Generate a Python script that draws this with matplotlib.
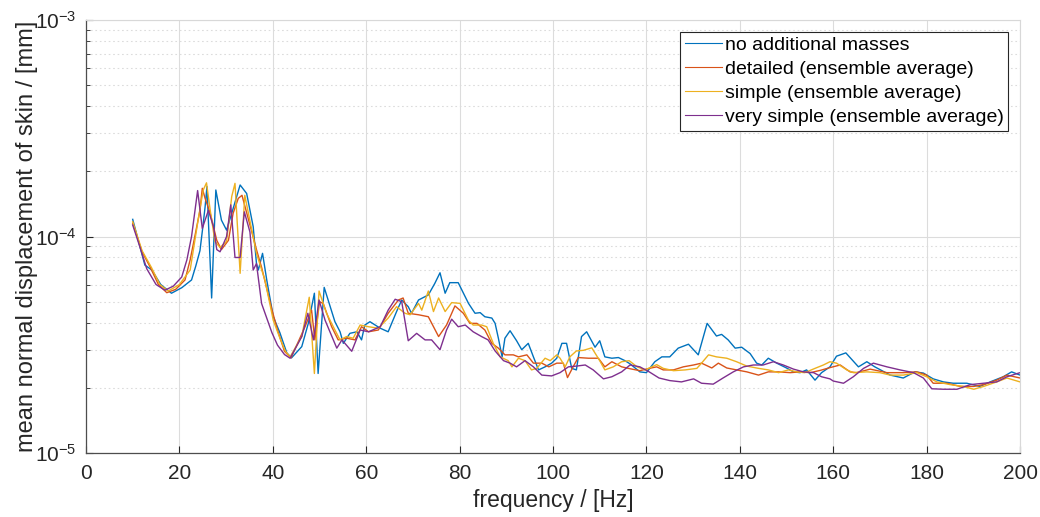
import matplotlib
matplotlib.use("Agg")
import matplotlib.pyplot as plt
import numpy as np
from matplotlib.ticker import LogLocator

plt.rcParams['font.family'] = ['Liberation Sans', 'DejaVu Sans']
plt.rcParams['mathtext.fontset'] = 'custom'
plt.rcParams['mathtext.rm'] = 'Liberation Sans'
plt.rcParams['mathtext.it'] = 'Liberation Sans:italic'
plt.rcParams['mathtext.bf'] = 'Liberation Sans:bold'

labels = ["no additional masses", "detailed (ensemble average)",
          "simple (ensemble average)", "very simple (ensemble average)"]
colors = ["#0072BD", "#D95319", "#EDB120", "#7E2F8E"]

# values in units of 1e-5 mm
f_blue = [10, 12.6, 14.1, 16, 18.3, 20.5, 22.6, 23.5, 24.4, 25.0, 25.5, 25.9, 26.9, 27.8, 29.0, 30.1, 31.2,
          33.0, 34.4, 35.8, 36.5, 36.9, 37.8, 38.7, 40.1, 41.5, 43.0, 44.0, 46.2, 47.6, 48.9, 49.7, 51.0,
          53.3, 54.4, 55.1, 56.5, 58.0, 59.0, 59.7, 60.8, 63.0, 64.7, 66.5, 67.6, 69.0, 69.7, 71.2, 73.3,
          74.7, 75.8, 76.9, 77.9, 79.7, 81.9, 83.3, 84.4, 85.4, 86.9, 87.6, 88.3, 89.1, 89.7, 90.8, 92.2,
          93.3, 94.7, 95.8, 96.9, 98.3, 99.7, 100.8, 101.9, 102.9, 104.0, 105.0, 106.1, 107.2, 109.0,
          110.0, 111.1, 112.6, 114.0, 115.4, 116.5, 118.6, 120.0, 121.8, 123.3, 125.0, 126.8, 129.0,
          131.1, 133.0, 135.0, 136.1, 137.5, 139.0, 140.4, 142.2, 143.6, 144.7, 146.1, 147.9, 150.0,
          151.5, 152.9, 154.3, 156.1, 157.5, 159.3, 160.7, 162.7, 165.4, 167.2, 168.9, 172.2, 175.0,
          177.5, 179.3, 181.4, 183.6, 185.7, 188.6, 191.4, 193.6, 196.4, 198.2, 200]
v_blue = [12.0, 7.38, 7.0, 6.0, 5.47, 5.8, 6.3, 7.3, 8.6, 11.0, 13.7, 17.0, 5.2, 16.4, 11.9, 10.7, 12.8,
          17.3, 15.8, 11.1, 7.5, 7.0, 8.36, 6.3, 4.26, 3.6, 2.9, 2.75, 3.1, 3.97, 5.47, 2.33, 5.82,
          4.04, 3.63, 3.21, 3.57, 3.63, 3.33, 3.9, 4.04, 3.77, 3.63, 4.5, 5.09, 4.74, 4.42, 5.09, 5.37,
          6.08, 6.8, 5.47, 6.12, 6.12, 4.91, 4.42, 4.45, 4.26, 4.2, 3.97, 3.39, 2.78, 3.39, 3.67, 3.3,
          3.0, 3.21, 2.78, 2.42, 2.5, 2.6, 2.74, 3.21, 3.21, 2.46, 2.42, 3.45, 3.63, 3.08,
          3.3, 2.78, 2.74, 2.76, 2.67, 2.58, 2.37, 2.35, 2.64, 2.78, 2.78, 3.05, 3.18,
          2.84, 3.97, 3.47, 3.53, 3.33, 3.05, 3.08, 2.88, 2.6, 2.55, 2.74, 2.6, 2.47,
          2.37, 2.35, 2.42, 2.17, 2.35, 2.5, 2.8, 2.9, 2.5, 2.64, 2.5, 2.29, 2.22,
          2.37, 2.34, 2.2, 2.13, 2.1, 2.1, 2.03, 2.13, 2.25, 2.37, 2.29]

f_orange = [10, 12, 13.7, 15.5, 17.3, 19.2, 21.2, 22.3, 23.3, 24.4, 24.9, 25.5, 26.6, 28.0, 29.0, 30.5,
            31.5, 32.6, 33.4, 35.5, 36.5, 37.6, 39.8, 41.0, 42.5, 43.9, 46.9, 48.3, 49.0, 50.0, 50.8,
            52.6, 54.0, 55.8, 57.6, 59.0, 60.5, 62.6, 64.7, 66.9, 67.9, 69.0, 71.2, 73.3, 75.5, 77.2,
            79.0, 80.8, 82.2, 83.7, 85.4, 86.9, 88.3, 89.7, 91.5, 92.6, 94.4, 95.8, 97.6, 99.1, 100.8,
            102.2, 103.1, 104.3, 105.4, 107.6, 109.7, 111.1, 112.6, 114.7, 116.5, 118.6, 120.6, 122.2,
            123.6, 125.8, 127.9, 130.1, 131.8, 134.0, 135.4, 137.2, 139.3, 141.5, 144.0, 146.1, 148.3,
            150.8, 152.9, 155.1, 157.3, 159.3, 161.5, 163.6, 165.0, 167.9, 171.5, 175.0, 177.9, 180.0,
            181.4, 184.3, 187.2, 190.1, 192.2, 195.0, 197.2, 200]
v_orange = [11.5, 8.5, 7.25, 6.0, 5.5, 5.7, 6.3, 7.8, 10.0, 13.2, 16.7, 15.0, 12.8, 9.6, 8.7, 9.6,
            12.8, 15.0, 15.5, 10.5, 8.7, 7.2, 4.6, 3.7, 2.95, 2.75, 3.83, 4.57, 3.33, 5.0, 4.9,
            3.83, 3.33, 3.39, 3.33, 3.83, 3.63, 3.7, 4.42, 5.09, 5.2, 4.42, 4.35, 4.26, 3.45, 3.9,
            4.78, 4.42, 3.97, 3.97, 3.7, 3.21, 3.05, 2.84, 2.84, 2.78, 2.84, 2.6, 2.6, 2.5, 2.6,
            2.6, 2.23, 2.5, 2.76, 2.74, 2.74, 2.5, 2.64, 2.5, 2.45, 2.4, 2.46, 2.5,
            2.42, 2.42, 2.5, 2.55, 2.6, 2.47, 2.6, 2.47, 2.42, 2.37, 2.29, 2.37, 2.37,
            2.35, 2.37, 2.35, 2.41, 2.48, 2.55, 2.37, 2.35, 2.44, 2.35, 2.35, 2.37, 2.29,
            2.1, 2.1, 2.03, 2.03, 2.07, 2.17, 2.29, 2.22]

f_yellow = [10, 12, 14, 15.8, 17.6, 20, 22.3, 24.0, 25.1, 25.8, 26.6, 27.6, 28.7, 30.1, 31.2, 31.9,
            33.0, 34.0, 35.5, 36.5, 38.3, 40.1, 41.5, 42.7, 43.7, 46.2, 47.8, 48.9, 49.9, 51.5, 53.3,
            54.4, 55.8, 57.2, 58.7, 60.5, 62.6, 64.7, 66.5, 68.3, 69.4, 71.2, 71.9, 73.3, 74.4, 75.5,
            76.9, 78.3, 80.1, 81.9, 82.9, 84.7, 85.8, 87.2, 88.7, 90.4, 91.2, 92.6, 94.0, 95.4, 96.5,
            98.3, 99.4, 100.8, 101.5, 102.6, 103.6, 105.0, 106.5, 108.3, 110.0, 111.1, 112.9, 114.7,
            116.3, 118.0, 119.7, 122.2, 123.6, 125.8, 128.3, 130.8, 131.8, 133.3, 135.0, 137.2, 139.3,
            141.5, 144.0, 146.1, 148.3, 150.4, 152.2, 153.9, 156.1, 157.9, 159.3, 160.7, 162.9, 164.3,
            167.2, 170.0, 172.2, 175.0, 177.9, 180.0, 182.2, 185.0, 187.8, 190.1, 192.2, 195.0, 197.2, 200]
v_yellow = [11.7, 8.6, 7.2, 6.0, 5.6, 6.0, 7.0, 11.9, 16.4, 17.7, 13.2, 9.5, 8.9, 9.5, 15.3, 17.6,
            6.76, 15.5, 10.7, 8.36, 6.3, 4.1, 3.4, 2.95, 2.78, 3.45, 5.24, 2.33, 5.6, 4.42, 3.7,
            3.33, 3.45, 3.39, 3.9, 3.83, 3.77, 4.2, 4.74, 4.42, 4.35, 4.91, 4.57, 5.6, 4.5, 5.2,
            4.5, 4.95, 4.91, 4.1, 3.9, 3.9, 3.83, 3.21, 2.78, 2.67, 2.5, 2.74, 2.67, 2.42, 2.46,
            2.74, 2.67, 2.84, 2.74, 2.5, 2.78, 2.96, 2.98, 3.06, 2.67, 2.42, 2.5, 2.64,
            2.67, 2.5, 2.42, 2.56, 2.46, 2.4, 2.42, 2.46, 2.6, 2.84, 2.78, 2.74, 2.64,
            2.52, 2.46, 2.42, 2.35, 2.42, 2.37, 2.35, 2.46, 2.55, 2.64, 2.6, 2.42, 2.35,
            2.37, 2.35, 2.29, 2.29, 2.35, 2.25, 2.13, 2.07, 2.03, 1.97, 2.03, 2.13, 2.22, 2.13]

f_purple = [10, 11.5, 13.0, 15.0, 16.9, 18.7, 20.5, 21.6, 22.6, 23.9, 24.9, 26.2, 27.3, 28.0, 28.7,
            30.1, 31.0, 31.9, 33.0, 33.9, 35.1, 35.8, 36.5, 37.6, 39.8, 41.0, 42.5, 43.7, 46.2, 47.5,
            48.7, 49.9, 51.2, 53.7, 54.8, 56.9, 58.7, 60.5, 63.0, 64.7, 66.2, 67.6, 69.0, 70.8, 72.6,
            74.0, 75.8, 77.2, 78.3, 79.7, 81.2, 82.9, 84.7, 86.1, 87.6, 89.4, 90.8, 92.2, 94.0, 95.8,
            97.6, 99.7, 101.5, 103.3, 105.0, 106.9, 108.6, 110.8, 112.6, 114.7, 116.5, 118.6, 120.6,
            122.7, 125.0, 127.5, 130.1, 131.8, 134.3, 136.4, 138.6, 140.8, 142.9, 145.0, 147.2, 149.3,
            151.5, 153.6, 155.8, 157.5, 159.3, 160.0, 162.2, 164.3, 166.5, 168.6, 171.5, 174.3, 177.2,
            179.3, 181.1, 183.6, 186.5, 189.4, 192.2, 195.0, 197.2, 200]
v_purple = [11.3, 9.0, 7.1, 6.0, 5.65, 5.9, 6.5, 7.8, 10.0, 16.3, 10.9, 13.2, 11.1, 8.7, 8.5,
            10.0, 14.0, 8.0, 8.0, 13.0, 10.5, 7.0, 7.5, 4.9, 3.6, 3.15, 2.85, 2.74, 3.45, 4.42,
            3.33, 5.09, 4.1, 3.05, 3.33, 2.95, 3.7, 3.63, 3.83, 4.57, 5.13, 5.0, 3.3, 3.57, 3.33,
            3.33, 3.0, 3.7, 4.15, 3.83, 3.9, 3.63, 3.45, 3.33, 2.96, 2.67, 2.6, 2.5, 2.67, 2.5,
            2.29, 2.27, 2.35, 2.5, 2.52, 2.55, 2.42, 2.2, 2.25, 2.37, 2.55, 2.5, 2.37,
            2.22, 2.16, 2.13, 2.2, 2.1, 2.08, 2.22, 2.37, 2.5, 2.55, 2.55, 2.64, 2.55,
            2.44, 2.37, 2.35, 2.25, 2.2, 2.15, 2.1, 2.25, 2.46, 2.6, 2.5, 2.42, 2.35,
            2.22, 1.98, 1.97, 1.97, 2.07, 2.1, 2.13, 2.25, 2.35]

x_ticks = [0, 20, 40, 60, 80, 100, 120, 140, 160, 180, 200]

series = [(f_blue, v_blue), (f_orange, v_orange), (f_yellow, v_yellow), (f_purple, v_purple)]

fig = plt.figure(figsize=(10.4, 5.17), dpi=100)
ax = fig.add_axes([0.0827, 0.1238, 0.8981, 0.8375])

for (f, v), c, lab in zip(series, colors, labels):
    ax.semilogy(f, np.array(v) * 1e-5, color=c, lw=1.0, label=lab)

ax.set_xlim(0, 200)
ax.set_ylim(1e-5, 1e-3)
ax.set_xticks(x_ticks)
ax.yaxis.set_major_locator(LogLocator(base=10, numticks=5))
ax.yaxis.set_minor_locator(LogLocator(base=10, subs=np.arange(2, 10), numticks=20))

ax.grid(True, which='major', axis='both', color='#dcdcdc', lw=0.8, ls='-')
ax.grid(True, which='minor', axis='y', color='#dcdcdc', lw=0.8, ls=(0, (1.5, 2.5)))
ax.set_axisbelow(True)

ax.tick_params(axis='both', which='both', direction='in', colors='#262626',
               labelsize=15, top=False, right=False)
ax.tick_params(axis='x', which='major', length=5, width=0.8, pad=8)
ax.tick_params(axis='y', which='major', length=5, width=0.8, pad=7)
ax.tick_params(axis='y', which='minor', length=3, width=0.6)
ax.tick_params(axis='x', which='minor', bottom=False)

for s in ['left', 'bottom']:
    ax.spines[s].set_color('#4d4d4d')
    ax.spines[s].set_linewidth(0.9)
for s in ['top', 'right']:
    ax.spines[s].set_color('#d8d8d8')
    ax.spines[s].set_linewidth(0.8)

ax.set_xlabel('frequency / [Hz]', fontsize=16.5, color='#262626')
ax.xaxis.set_label_coords(0.5, -0.083)
ax.set_ylabel('mean normal displacement of skin / [mm]', fontsize=17, color='#262626')
ax.yaxis.set_label_coords(-0.051, 0.5)

leg = ax.legend(loc='upper right', fontsize=14, frameon=True, fancybox=False,
                edgecolor='#262626', framealpha=1, handlelength=1.9, handletextpad=0.15,
                borderaxespad=0.6, labelspacing=0.32, borderpad=0.25)
leg.get_frame().set_linewidth(0.8)
for line in leg.get_lines():
    line.set_linewidth(0.8)

fig.savefig('out.png', dpi=100)
